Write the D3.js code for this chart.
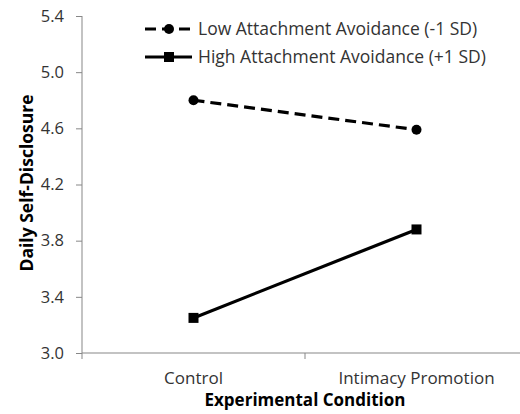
<!DOCTYPE html>
<html><head><meta charset="utf-8">
<script src="https://cdn.jsdelivr.net/npm/d3@7"></script>
<style>body{margin:0;background:#fff}svg{display:block}text{font-family:"Open Sans","Noto Sans",sans-serif}</style>
</head><body><svg id="c" width="520" height="414"></svg>
<script>
const categories = ["Control", "Intimacy Promotion"];
const lowAvoidance = [4.80, 4.59];
const highAvoidance = [3.25, 3.88];
const seriesNames = ["Low Attachment Avoidance (-1 SD)", "High Attachment Avoidance (+1 SD)"];
const yTicks = [3.0, 3.4, 3.8, 4.2, 4.6, 5.0, 5.4];

const svg = d3.select("#c");
const x = d3.scaleBand().domain(categories).range([82, 528]);
const y = d3.scaleLinear().domain([3.0, 5.4]).range([353, 16]);
const axisColor = "#878787";
const font = "'Open Sans',sans-serif";

// y axis
const ya = svg.append("g").attr("transform", "translate(82,0)")
  .call(d3.axisLeft(y).tickValues(yTicks).tickFormat(d3.format(".1f")).tickSize(6).tickPadding(12));
ya.select(".domain").attr("stroke", axisColor).attr("d", "M0,16V353");
ya.selectAll(".tick line").attr("stroke", axisColor);
ya.selectAll(".tick text").attr("font-size", 16.5).attr("fill", "#333").attr("font-family", font);

// x axis
const xa = svg.append("g").attr("transform", "translate(0,353)")
  .call(d3.axisBottom(x).tickSize(0).tickPadding(19));
xa.select(".domain").attr("stroke", axisColor).attr("d", "M82,0H528");
xa.selectAll(".tick text").attr("font-size", 17).attr("fill", "#333").attr("font-family", font);
const bounds = [x.range()[0], x(categories[1])];
svg.append("g").selectAll("line").data(bounds).join("line")
  .attr("x1", d => d).attr("x2", d => d).attr("y1", 353).attr("y2", 359)
  .attr("stroke", axisColor);

const cx = d => x(d) + x.bandwidth() / 2;
const line = d3.line().x(d => cx(d.c)).y(d => y(d.v));
const lowData = categories.map((c, i) => ({c, v: lowAvoidance[i]}));
const highData = categories.map((c, i) => ({c, v: highAvoidance[i]}));

svg.append("path").datum(lowData).attr("d", line).attr("fill", "none")
  .attr("stroke", "#000").attr("stroke-width", 3.2).attr("stroke-dasharray", "11,6");
svg.append("path").datum(highData).attr("d", line).attr("fill", "none")
  .attr("stroke", "#000").attr("stroke-width", 3.2);

svg.selectAll(".lowpt").data(lowData).join("circle").attr("class", "lowpt")
  .attr("cx", d => cx(d.c)).attr("cy", d => y(d.v)).attr("r", 5).attr("fill", "#000");
svg.selectAll(".highpt").data(highData).join("rect").attr("class", "highpt")
  .attr("x", d => cx(d.c) - 5).attr("y", d => y(d.v) - 5).attr("width", 10).attr("height", 10).attr("fill", "#000");

// legend
const lg = svg.append("g");
lg.append("line").attr("x1", 145).attr("x2", 192).attr("y1", 29).attr("y2", 29)
  .attr("stroke", "#000").attr("stroke-width", 3.2).attr("stroke-dasharray", "11,6");
lg.append("circle").attr("cx", 169).attr("cy", 29).attr("r", 5).attr("fill", "#000");
lg.append("line").attr("x1", 145).attr("x2", 192).attr("y1", 57).attr("y2", 57)
  .attr("stroke", "#000").attr("stroke-width", 3.2);
lg.append("rect").attr("x", 164).attr("y", 52).attr("width", 10).attr("height", 10).attr("fill", "#000");
lg.selectAll("text").data(seriesNames).join("text")
  .attr("x", 198).attr("y", (d, i) => 29 + i * 28).attr("dy", "0.35em")
  .attr("font-size", 17.5).attr("fill", "#333").text(d => d);

// axis titles
svg.append("text").attr("x", 305).attr("y", 406).attr("text-anchor", "middle")
  .attr("font-size", 17).attr("font-weight", "bold").attr("fill", "#000").text("Experimental Condition");
svg.append("text").attr("transform", "translate(33,183) rotate(-90)").attr("text-anchor", "middle")
  .attr("font-size", 17.5).attr("font-weight", "bold").attr("fill", "#000").text("Daily Self-Disclosure");
</script></body></html>
